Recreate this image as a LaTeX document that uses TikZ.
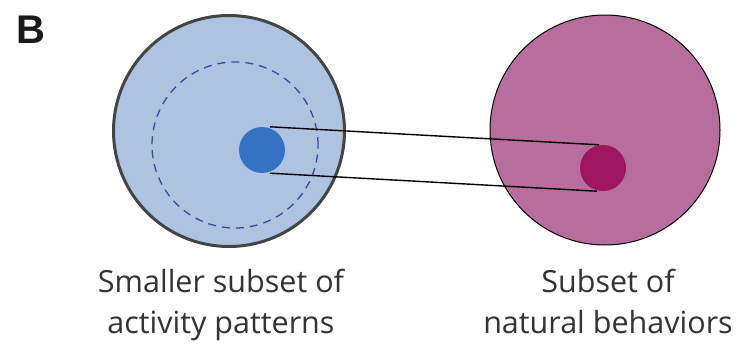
\documentclass[tikz,border=0pt]{standalone}
\usepackage{fontspec}
\setmainfont{Open Sans}
\newfontfamily\labfont{Liberation Sans}
\definecolor{lightblue}{HTML}{AEC3DF}
\definecolor{pinkish}{HTML}{B76E9E}
\definecolor{dotblue}{HTML}{3672C4}
\definecolor{dotmag}{HTML}{9E1560}
\definecolor{dashblue}{HTML}{3A4A9E}
\definecolor{rimgray}{HTML}{444444}
\definecolor{textgray}{HTML}{333333}
\tikzset{
  bigset/.style={circle, inner sep=0pt, minimum size=#1},
  dotnode/.style={circle, inner sep=0pt, minimum size=46pt},
  labeltext/.style={align=center, text=textgray, font=\fontsize{30.5}{41}\selectfont, inner sep=0pt, anchor=base},
  link/.style={black, line width=1.4pt}
}
\begin{document}
\begin{tikzpicture}[x=1pt,y=-1pt]
\useasboundingbox (0,0) rectangle (741,343);
\node[bigset=231pt, fill=lightblue, draw=rimgray, line width=3pt] (left) at (229,131) {};
\node[bigset=230pt, fill=pinkish, draw=black, line width=1pt] (right) at (605,130) {};
\node[bigset=166pt, draw=dashblue, dash pattern=on 8pt off 6pt, line width=1.3pt] (inner) at (235,145) {};
\node[dotnode, fill=dotblue] (bdot) at (262,150) {};
\node[dotnode, fill=dotmag] (mdot) at (603,168) {};
\draw[link] ([xshift=8pt]bdot.north) -- ([xshift=-4pt]mdot.north);
\draw[link] ([xshift=8pt]bdot.south) -- ([xshift=-6pt]mdot.south);
\node[labeltext] (llab) at (221,333) {Smaller subset of\\activity patterns};
\node[labeltext] (rlab) at (608,333) {Subset of\\natural behaviors};
\node[font=\labfont\bfseries\fontsize{40}{40}\selectfont, anchor=base west, inner sep=0pt, text=black!90] (B) at (16,43) {B};
\end{tikzpicture}
\end{document}
